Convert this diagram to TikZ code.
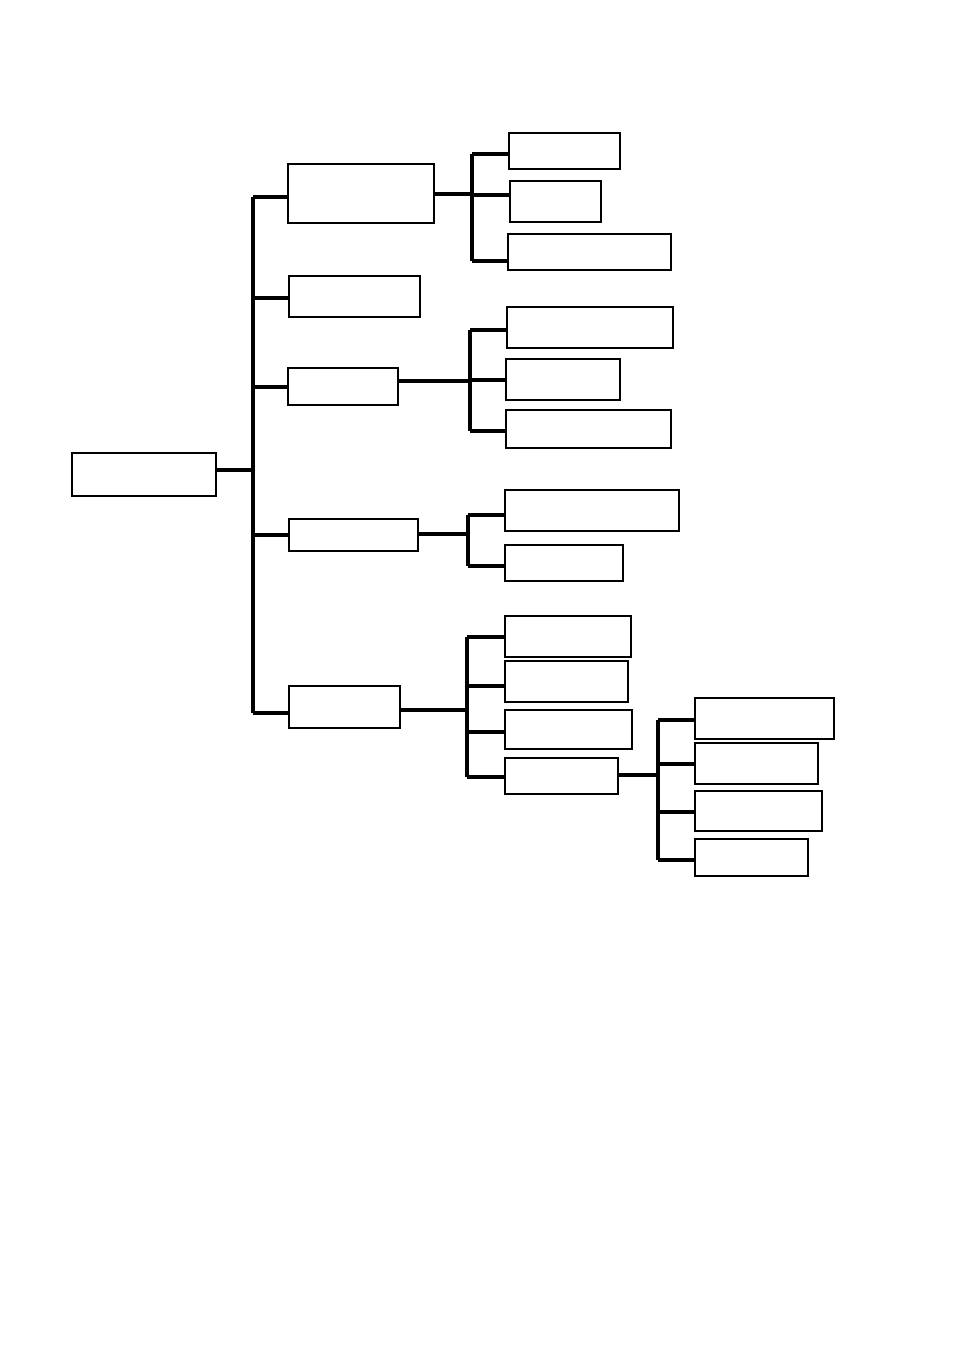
\documentclass[tikz,border=0pt]{standalone}
\begin{document}
\begin{tikzpicture}[x=1pt,y=-1pt,
  box/.style={draw,line width=1.1pt,inner sep=0pt,fill=white},
  conn/.style={draw,line width=3.6pt}]
\useasboundingbox[fill=white] (0,0) rectangle (954,1350);
% connectors first, boxes drawn over them
\coordinate (r0) at (253,470);
\coordinate (jA) at (253,197);
\coordinate (jB) at (253,298);
\coordinate (jC) at (253,387);
\coordinate (jD) at (253,535);
\coordinate (jE) at (253,713);
\coordinate (a0) at (472,194);
\coordinate (ja1) at (472,154);
\coordinate (ja2) at (472,195);
\coordinate (ja3) at (472,261);
\coordinate (c0) at (470,381);
\coordinate (jc1) at (470,330);
\coordinate (jc2) at (470,380);
\coordinate (jc3) at (470,431);
\coordinate (d0) at (468,534);
\coordinate (jd1) at (468,515);
\coordinate (jd2) at (468,566);
\coordinate (e0) at (467,710);
\coordinate (je1) at (467,637);
\coordinate (je2) at (467,686);
\coordinate (je3) at (467,732);
\coordinate (je4) at (467,777);
\coordinate (f0) at (658,775);
\coordinate (jf1) at (658,720);
\coordinate (jf2) at (658,764);
\coordinate (jf3) at (658,812);
\coordinate (jf4) at (658,860);
% boxes
\node[box,minimum width=144pt,minimum height=43pt] (root) at (144,474.5) {};
\node[box,minimum width=146pt,minimum height=59pt] (A) at (361,193.5) {};
\node[box,minimum width=131pt,minimum height=41pt] (B) at (354.5,296.5) {};
\node[box,minimum width=110pt,minimum height=37pt] (C) at (343,386.5) {};
\node[box,minimum width=129pt,minimum height=32pt] (D) at (353.5,535) {};
\node[box,minimum width=111pt,minimum height=42pt] (E) at (344.5,707) {};
\node[box,minimum width=111pt,minimum height=36pt] (A1) at (564.5,151) {};
\node[box,minimum width=91pt,minimum height=41pt] (A2) at (555.5,201.5) {};
\node[box,minimum width=163pt,minimum height=36pt] (A3) at (589.5,252) {};
\node[box,minimum width=166pt,minimum height=41pt] (C1) at (590,327.5) {};
\node[box,minimum width=114pt,minimum height=41pt] (C2) at (563,379.5) {};
\node[box,minimum width=165pt,minimum height=38pt] (C3) at (588.5,429) {};
\node[box,minimum width=174pt,minimum height=41pt] (D1) at (592,510.5) {};
\node[box,minimum width=118pt,minimum height=36pt] (D2) at (564,563) {};
\node[box,minimum width=126pt,minimum height=41pt] (E1) at (568,636.5) {};
\node[box,minimum width=123pt,minimum height=41pt] (E2) at (566.5,681.5) {};
\node[box,minimum width=127pt,minimum height=39pt] (E3) at (568.5,729.5) {};
\node[box,minimum width=113pt,minimum height=36pt] (E4) at (561.5,776) {};
\node[box,minimum width=139pt,minimum height=41pt] (F1) at (764.5,718.5) {};
\node[box,minimum width=123pt,minimum height=41pt] (F2) at (756.5,763.5) {};
\node[box,minimum width=127pt,minimum height=40pt] (F3) at (758.5,811) {};
\node[box,minimum width=113pt,minimum height=37pt] (F4) at (751.5,857.5) {};
% level 1 bracket
\draw[conn] (root.east |- r0) -- (r0);
\draw[conn] (jA) -- (jE);
\foreach \n in {A,B,C,D,E} \draw[conn] (j\n) -- (j\n -| \n.west);
% A bracket
\draw[conn] (A.east |- a0) -- (a0);
\draw[conn] (ja1) -- (ja3);
\foreach \n in {1,2,3} \draw[conn] (ja\n) -- (ja\n -| A\n.west);
% C bracket
\draw[conn] (C.east |- c0) -- (c0);
\draw[conn] (jc1) -- (jc3);
\foreach \n in {1,2,3} \draw[conn] (jc\n) -- (jc\n -| C\n.west);
% D bracket
\draw[conn] (D.east |- d0) -- (d0);
\draw[conn] (jd1) -- (jd2);
\foreach \n in {1,2} \draw[conn] (jd\n) -- (jd\n -| D\n.west);
% E bracket
\draw[conn] (E.east |- e0) -- (e0);
\draw[conn] (je1) -- (je4);
\foreach \n in {1,2,3,4} \draw[conn] (je\n) -- (je\n -| E\n.west);
% E4 bracket
\draw[conn] (E4.east |- f0) -- (f0);
\draw[conn] (jf1) -- (jf4);
\foreach \n in {1,2,3,4} \draw[conn] (jf\n) -- (jf\n -| F\n.west);
\end{tikzpicture}
\end{document}
